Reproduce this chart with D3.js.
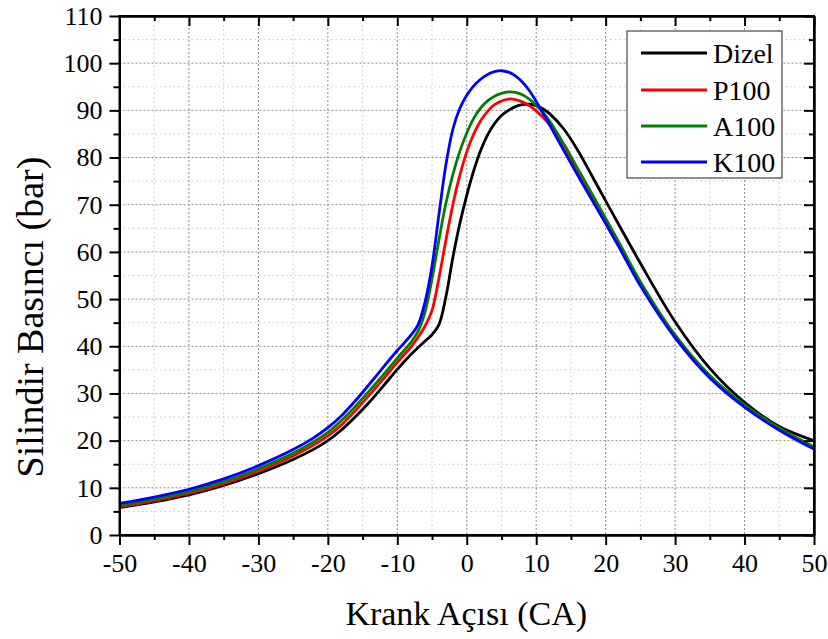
<!DOCTYPE html>
<html>
<head>
<meta charset="utf-8">
<script src="https://cdn.jsdelivr.net/npm/d3@7"></script>
<style>
  html, body { margin: 0; padding: 0; background: #fff; }
  svg { display: block; }
  text { font-family: "Liberation Serif", "Times New Roman", serif; fill: #000; }
</style>
</head>
<body>
<svg id="chart" width="828" height="639"></svg>
<script>
// ---- data ----
const crankAngles = [-50,-45,-40,-35,-30,-25,-22,-20,-18,-16,-14,-12,-10,-8,-7,-6,-5,-4,-3,-2,-1,0,1,2,3,4,5,6,7,8,9,10,11,12,14,16,18,20,22,25,30,35,40,45,50];
const dizel = [5.8,7.0,8.5,10.5,13.0,16.0,18.2,20.0,22.3,25.1,28.2,31.6,35.1,38.3,39.75,41.1,42.45,44.6,50.5,58.8,66.0,72.0,77.2,81.5,84.8,87.2,88.9,90.0,90.8,91.2,91.3,91.0,90.3,89.2,86.0,81.5,76.2,70.8,65.5,57.6,45.2,35.3,28.1,23.0,20.0];
const p100  = [6.0,7.3,8.85,10.9,13.55,16.75,19.1,21.0,23.4,26.4,29.7,33.1,36.6,39.9,41.9,44.3,47.6,54.5,62.5,70.0,76.2,81.2,85.0,87.8,89.8,91.2,92.0,92.4,92.3,91.8,91.0,89.9,88.5,86.8,81.9,76.9,71.8,66.6,61.3,53.3,42.1,33.6,27.4,22.5,18.5];
const a100  = [6.25,7.6,9.2,11.3,14.05,17.3,19.75,21.75,24.3,27.3,30.6,34.0,37.5,40.9,43.2,47.3,54.3,62.6,70.3,76.4,81.3,85.2,88.3,90.5,92.0,93.0,93.6,93.9,93.8,93.3,92.4,91.1,89.5,87.6,82.8,77.6,72.4,67.1,61.8,53.7,42.4,33.8,27.6,22.7,18.7];
const k100  = [6.7,8.05,9.7,11.9,14.7,18.1,20.65,22.75,25.35,28.5,32.0,35.6,39.1,42.4,44.6,49.4,57.0,68.0,78.5,86.0,90.4,93.2,95.2,96.6,97.6,98.2,98.4,98.1,97.3,96.0,94.2,91.9,89.4,86.8,81.4,76.2,71.1,66.0,60.8,52.8,41.8,33.3,27.1,22.2,18.2];

const seriesNames  = ["Dizel","P100","A100","K100"];
const seriesColors = ["#000000","#ff0000","#008000","#0000ff"];
const seriesValues = [dizel, p100, a100, k100];

const xMajorTicks = d3.range(-50, 51, 10);
const xMinorTicks = d3.range(-45, 50, 10);
const yMajorTicks = d3.range(0, 111, 10);
const yMinorTicks = d3.range(5, 110, 10);

const xTitle = "Krank Açısı (CA)";
const yTitle = "Silindir Basıncı (bar)";

// ---- layout ----
const L = 119.5, R = 814, T = 16, B = 535;
const svg = d3.select("#chart");
const x = d3.scaleLinear().domain([-50, 50]).range([L, R]);
const y = d3.scaleLinear().domain([0, 110]).range([B, T]);

// grid
const grid = svg.append("g");
grid.selectAll(".vminor").data(xMinorTicks).join("line")
  .attr("x1", d => x(d)).attr("x2", d => x(d)).attr("y1", T).attr("y2", B)
  .attr("stroke", "#c8c8c8").attr("stroke-width", 1).attr("stroke-dasharray", "1.5,3");
grid.selectAll(".hminor").data(yMinorTicks).join("line")
  .attr("y1", d => y(d)).attr("y2", d => y(d)).attr("x1", L).attr("x2", R)
  .attr("stroke", "#c8c8c8").attr("stroke-width", 1).attr("stroke-dasharray", "1.5,3");
grid.selectAll(".vmajor").data(xMajorTicks.slice(1, -1)).join("line")
  .attr("x1", d => x(d)).attr("x2", d => x(d)).attr("y1", T).attr("y2", B)
  .attr("stroke", "#8c8c8c").attr("stroke-width", 1).attr("stroke-dasharray", "2,2");
grid.selectAll(".hmajor").data(yMajorTicks.slice(1, -1)).join("line")
  .attr("y1", d => y(d)).attr("y2", d => y(d)).attr("x1", L).attr("x2", R)
  .attr("stroke", "#8c8c8c").attr("stroke-width", 1).attr("stroke-dasharray", "2,2");

// curves
const line = d3.line()
  .x((d, i) => x(crankAngles[i]))
  .y(d => y(d))
  .curve(d3.curveCatmullRom.alpha(0.5));

[0, 1, 2, 3].forEach(k => {
  svg.append("path")
    .datum(seriesValues[k])
    .attr("fill", "none")
    .attr("stroke", seriesColors[k])
    .attr("stroke-width", 2.8)
    .attr("stroke-linejoin", "round")
    .attr("d", line);
});

// axes
function styleAxis(g) {
  g.select(".domain").attr("stroke", "#000").attr("stroke-width", 2);
  g.selectAll(".tick line").attr("stroke", "#000").attr("stroke-width", 2);
  g.selectAll(".tick text").style("font-family", '"Liberation Serif", serif').style("font-size", "26px").attr("fill", "#000");
}
const fmt = d => String(d);

const axB = svg.append("g").attr("transform", `translate(0,${B})`)
  .call(d3.axisBottom(x).tickValues(xMajorTicks).tickSize(10).tickSizeOuter(0).tickPadding(9).tickFormat(fmt));
styleAxis(axB);
const axBm = svg.append("g").attr("transform", `translate(0,${B})`)
  .call(d3.axisBottom(x).tickValues(xMinorTicks).tickSize(5).tickSizeOuter(0).tickFormat(""));
styleAxis(axBm);

const axL = svg.append("g").attr("transform", `translate(${L},0)`)
  .call(d3.axisLeft(y).tickValues(yMajorTicks).tickSize(10).tickSizeOuter(0).tickPadding(7).tickFormat(fmt));
styleAxis(axL);
const axLm = svg.append("g").attr("transform", `translate(${L},0)`)
  .call(d3.axisLeft(y).tickValues(yMinorTicks).tickSize(6).tickSizeOuter(0).tickFormat(""));
styleAxis(axLm);

const axT = svg.append("g").attr("transform", `translate(0,${T})`)
  .call(d3.axisTop(x).tickValues(xMajorTicks).tickSize(-10).tickSizeOuter(0).tickFormat(""));
styleAxis(axT);
const axTm = svg.append("g").attr("transform", `translate(0,${T})`)
  .call(d3.axisTop(x).tickValues(xMinorTicks).tickSize(-5).tickSizeOuter(0).tickFormat(""));
styleAxis(axTm);

const axR = svg.append("g").attr("transform", `translate(${R},0)`)
  .call(d3.axisRight(y).tickValues(yMajorTicks).tickSize(-10).tickSizeOuter(0).tickFormat(""));
styleAxis(axR);
const axRm = svg.append("g").attr("transform", `translate(${R},0)`)
  .call(d3.axisRight(y).tickValues(yMinorTicks).tickSize(-5).tickSizeOuter(0).tickFormat(""));
styleAxis(axRm);

// frame
svg.append("rect").attr("x", L).attr("y", T).attr("width", R - L).attr("height", B - T)
  .attr("fill", "none").attr("stroke", "#000").attr("stroke-width", 2);

// titles
svg.append("text").attr("x", (L + R) / 2 - 0.5).attr("y", 625)
  .attr("text-anchor", "middle").style("font-size", "34px").text(xTitle);
svg.append("text").attr("transform", `translate(43,317) rotate(-90)`)
  .attr("text-anchor", "middle").style("font-size", "38px").text(yTitle);

// legend
const lg = svg.append("g");
lg.append("rect").attr("x", 627).attr("y", 31).attr("width", 155).attr("height", 147)
  .attr("fill", "#fff").attr("stroke", "#444").attr("stroke-width", 1.2);
const rowY = [53, 90, 126, 162];
seriesNames.forEach((name, i) => {
  lg.append("line").attr("x1", 641).attr("x2", 707).attr("y1", rowY[i]).attr("y2", rowY[i])
    .attr("stroke", seriesColors[i]).attr("stroke-width", 3);
  lg.append("text").attr("x", 713).attr("y", rowY[i] + 10)
    .style("font-size", "28px").text(name);
});
</script>
</body>
</html>
